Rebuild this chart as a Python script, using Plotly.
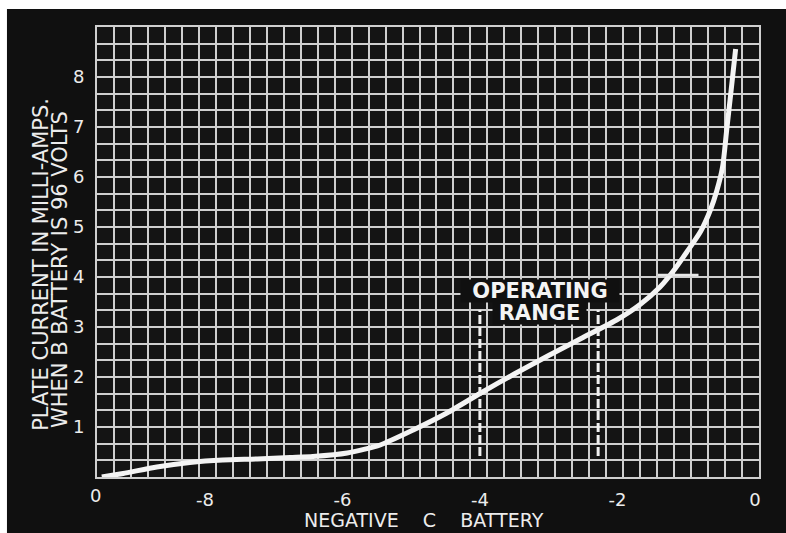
import plotly.graph_objects as go

# ---- data ----
c_battery = [-9.5, -9.19, -8.70, -8.22, -7.74, -7.24, -6.76, -6.43, -5.93, -5.45,
             -4.97, -4.48, -4.00, -3.50, -3.00, -2.50, -2.00, -1.67, -1.38, -1.18,
             -0.99, -0.79, -0.65, -0.555, -0.47, -0.41, -0.345, -0.28]
plate_current = [0.0, 0.07, 0.20, 0.29, 0.34, 0.36, 0.39, 0.41, 0.48, 0.64,
                 0.94, 1.28, 1.67, 2.06, 2.43, 2.79, 3.15, 3.45, 3.80, 4.13,
                 4.50, 4.91, 5.33, 5.72, 6.20, 6.94, 7.74, 8.56]

# short horizontal tick drawn beside the curve
tick_mark_x = [-1.41, -0.82]
tick_mark_y = [4.04, 4.04]

op_range_x = [-4.0, -2.28]
op_range_y = [0.42, 3.34]

x_tick_vals = [-8, -6, -4, -2, 0]
x_tick_text = ["-8", "-6", "-4", "-2", "0"]
y_tick_vals = [1, 2, 3, 4, 5, 6, 7, 8]
y_tick_text = ["1", "2", "3", "4", "5", "6", "7", "8"]

x_range = [-9.57, 0.06]
y_range = [0, 9]
x_cells = 39
y_cells_per_unit = 3

GRID = "#cfcfcf"
BG = "#141414"
INK = "#ececec"
FONT = "DejaVu Sans"
NB = "\u00a0"

fig = go.Figure()

fig.add_trace(go.Scatter(
    x=c_battery, y=plate_current, mode="lines",
    line=dict(color="#f4f4f4", width=5, shape="spline", smoothing=0.6),
    showlegend=False, hoverinfo="skip"))

fig.add_trace(go.Scatter(
    x=tick_mark_x, y=tick_mark_y, mode="lines",
    line=dict(color="#e8e8e8", width=2.5),
    showlegend=False, hoverinfo="skip"))

for xv in op_range_x:
    fig.add_trace(go.Scatter(
        x=[xv, xv], y=op_range_y, mode="lines",
        line=dict(color="#f0f0f0", width=3, dash="9px,3px"),
        showlegend=False, hoverinfo="skip"))

x_dtick = (x_range[1] - x_range[0]) / x_cells

fig.update_layout(
    width=786, height=533,
    margin=dict(l=97, r=27, t=27, b=56),
    paper_bgcolor="#101010",
    plot_bgcolor=BG,
    font=dict(family=FONT, color=INK),
    xaxis=dict(
        range=x_range, tickmode="array", tickvals=x_tick_vals, ticktext=x_tick_text,
        showgrid=False, zeroline=False, ticks="",
        ticklabelstandoff=5,
        tickfont=dict(size=18, color=INK, family=FONT),
        showline=True, mirror=True, linecolor=GRID, linewidth=2,
        minor=dict(tick0=x_range[0], dtick=x_dtick, showgrid=True,
                   gridcolor=GRID, gridwidth=2, ticks=""),
    ),
    yaxis=dict(
        range=y_range, tickmode="array", tickvals=y_tick_vals, ticktext=y_tick_text,
        showgrid=True, gridcolor=GRID, gridwidth=2, zeroline=False, ticks="",
        ticklabelstandoff=7,
        tickfont=dict(size=18, color=INK, family=FONT),
        showline=True, mirror=True, linecolor=GRID, linewidth=2,
        minor=dict(tick0=0, dtick=1 / y_cells_per_unit, showgrid=True,
                   gridcolor=GRID, gridwidth=2, ticks=""),
    ),
    shapes=[
        # white photo margins (top and left)
        dict(type="rect", xref="paper", yref="paper", x0=-0.2, x1=1.1,
             y0=1.04, y1=1.2, fillcolor="white", line=dict(width=0), layer="below"),
        dict(type="rect", xref="paper", yref="paper", x0=-0.2, x1=-0.136,
             y0=-0.2, y1=1.2, fillcolor="white", line=dict(width=0), layer="below"),
    ],
    annotations=[
        dict(text="PLATE CURRENT IN MILLI-AMPS.", xref="paper", yref="paper",
             x=-0.084, y=0.098, xanchor="center", yanchor="bottom", textangle=-90,
             showarrow=False, font=dict(size=21, color=INK, family=FONT)),
        dict(text="WHEN B BATTERY IS 96 VOLTS", xref="paper", yref="paper",
             x=-0.057, y=0.104, xanchor="center", yanchor="bottom", textangle=-90,
             showarrow=False, font=dict(size=21, color=INK, family=FONT)),
        dict(text="NEGATIVE" + NB * 4 + "C" + NB * 4 + "BATTERY", xref="paper", yref="paper",
             x=0.494, y=-0.095, xanchor="center", yanchor="middle",
             showarrow=False, font=dict(size=19, color=INK, family=FONT)),
        dict(text="0", xref="paper", yref="paper",
             x=-0.003, y=-0.04, xanchor="center", yanchor="middle",
             showarrow=False, font=dict(size=18, color=INK, family=FONT)),
        dict(text="<b>OPERATING</b>", xref="paper", yref="paper",
             x=0.669, y=0.413, xanchor="center", yanchor="middle",
             showarrow=False, bgcolor="#101010", borderpad=0, height=22, width=158,
             font=dict(size=21, color="#f4f4f4", family=FONT)),
        dict(text="<b>RANGE</b>", xref="paper", yref="paper",
             x=0.669, y=0.364, xanchor="center", yanchor="middle",
             showarrow=False, bgcolor="#101010", borderpad=0, height=22, width=93,
             font=dict(size=21, color="#f4f4f4", family=FONT)),
    ],
)

fig.write_html(
    "out.html",
    config={"displayModeBar": False},
    post_script="document.documentElement.style.margin='0px';"
                "document.documentElement.style.overflow='hidden';"
                "document.documentElement.style.background='#101010';"
                "document.body.style.margin='0px';"
                "document.body.style.overflow='hidden';"
                "document.body.style.background='#101010';",
)
